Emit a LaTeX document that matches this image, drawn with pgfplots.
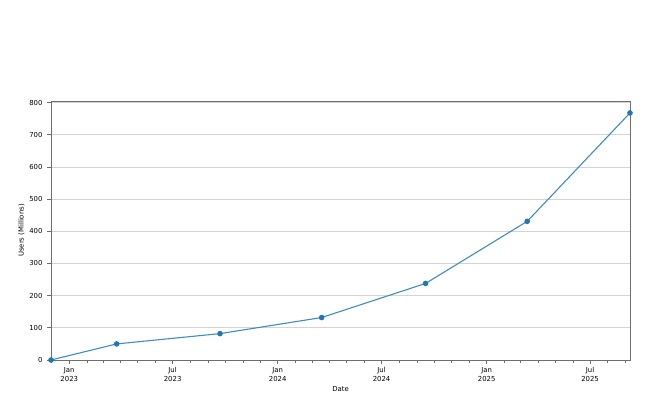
\documentclass[border=0pt]{standalone}
\usepackage{pgfplots}
\pgfplotsset{compat=1.18}
\usepackage{fontspec}
\setmainfont{DejaVu Sans}
\definecolor{tabblue}{HTML}{1F77B4}
\definecolor{gridc}{HTML}{D4D4D4}
\definecolor{spine}{HTML}{6E6E6E}
\begin{document}
\begin{tikzpicture}[x=1pt,y=1pt]
\path[use as bounding box] (0,0) rectangle (650,406);
\begin{axis}[
  at={(51pt,46pt)}, anchor=south west,
  width=579pt, height=259pt, scale only axis,
  xmin=-32, xmax=982, ymin=0, ymax=805,
  axis line style={spine, line width=0.9pt},
  font=\fontsize{6.9}{8}\selectfont,
  /pgf/number format/assume math mode=true,
  ytick={0,100,...,800},
  xtick={0,181,365,547,731,912},
  xticklabels={{Jan\\2023},{Jul\\2023},{Jan\\2024},{Jul\\2024},{Jan\\2025},{Jul\\2025}},
  xticklabel style={align=center, font=\fontsize{6.9}{8.6}\selectfont},
  minor xtick={-31,31,59,90,120,151,212,243,273,304,334,396,425,456,486,517,578,609,639,670,700,762,790,821,851,882,943,974},
  tick align=outside,
  tick pos=left,
  major tick length=4pt,
  minor tick length=2.6pt,
  tick style={spine, line width=0.7pt},
  ymajorgrids=true,
  major grid style={gridc, line width=0.8pt},
  xlabel={Date},
  ylabel={Users (Millions)},
  xlabel style={yshift=2pt},
  ylabel style={yshift=-2pt},
  yticklabel style={xshift=-1pt},
]
\addplot[tabblue!85!white, line width=1.1pt, mark=*, mark size=2.2pt,
  mark options={fill=tabblue, draw=tabblue}] coordinates {
  (-32,0) (83,50) (264,82) (442,132) (624,238) (802,431) (982,768)
};
\end{axis}
\end{tikzpicture}
\end{document}
